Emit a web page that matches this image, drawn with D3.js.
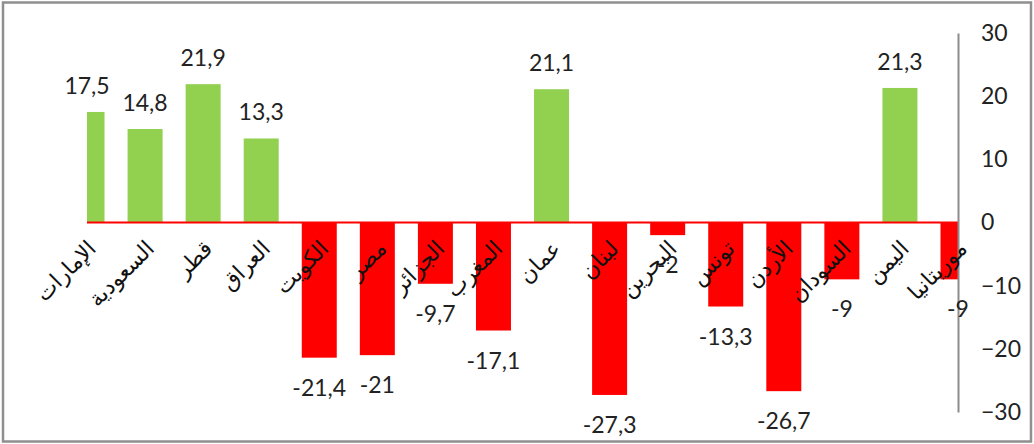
<!DOCTYPE html>
<html>
<head>
<meta charset="utf-8">
<script src="https://cdn.jsdelivr.net/npm/d3@7"></script>
<style>
  html, body { margin: 0; padding: 0; background: #fff; }
  svg { display: block; }
</style>
</head>
<body>
<svg id="chart" width="1034" height="444"></svg>
<script>
const categories = ["الإمارات","السعودية","قطر","العراق","الكويت","مصر","الجزائر","المغرب","عمان","لبنان","البحرين","تونس","الأردن","السودان","اليمن","موريتانيا"];
const values = [17.5, 14.8, 21.9, 13.3, -21.4, -21, -9.7, -17.1, 21.1, -27.3, -2, -13.3, -26.7, -9, 21.3, -9];
const valueLabels = ["17,5","14,8","21,9","13,3","-21,4","-21","-9,7","-17,1","21,1","-27,3","-2","-13,3","-26,7","-9","21,3","-9"];
const yTicks = [30, 20, 10, 0, -10, -20, -30];

const W = 1034, H = 444;
const plot = { left: 87, right: 958, top: 33, bottom: 412 };
const svg = d3.select("#chart");

// outer border
svg.append("rect")
  .attr("x", 3).attr("y", 2.5).attr("width", 1028).attr("height", 439)
  .attr("fill", "#fff").attr("stroke", "#8f8f8f").attr("stroke-width", 2.5);

const x = d3.scalePoint().domain(categories).range([plot.left, plot.right]);
const y = d3.scaleLinear().domain([-30, 30]).range([plot.bottom, plot.top]);
const barW = 35;

svg.append("clipPath").attr("id", "plotclip")
  .append("rect")
  .attr("x", plot.left).attr("y", plot.top - 5)
  .attr("width", plot.right - plot.left).attr("height", plot.bottom - plot.top + 10);

const data = categories.map((c, i) => ({ c, v: values[i], lab: valueLabels[i] }));

// bars
svg.append("g").attr("clip-path", "url(#plotclip)")
  .selectAll("rect").data(data).join("rect")
  .attr("x", d => x(d.c) - barW / 2)
  .attr("width", barW)
  .attr("y", d => y(Math.max(0, d.v)))
  .attr("height", d => Math.abs(y(d.v) - y(0)))
  .attr("fill", d => d.v >= 0 ? "#92d050" : "#ff0000");

// zero line (category axis)
svg.append("line")
  .attr("x1", plot.left).attr("x2", plot.right)
  .attr("y1", y(0)).attr("y2", y(0))
  .attr("stroke", "#ff0000").attr("stroke-width", 2);

// y axis on the right
const yAxis = d3.axisRight(y).tickValues(yTicks).tickSize(0).tickPadding(23).tickFormat(d3.format("d"));
const gy = svg.append("g").attr("transform", `translate(${plot.right},0)`).call(yAxis);
gy.select(".domain").attr("stroke", "#8c8c8c").attr("stroke-width", 2);
gy.selectAll("text")
  .attr("font-family", "Lato, 'DejaVu Sans', sans-serif")
  .attr("font-size", 23).attr("fill", "#222");

// category labels
svg.append("g").selectAll("text").data(data).join("text")
  .attr("transform", d => `translate(${x(d.c) + 5},${y(0) + 22}) rotate(-45)`)
  .attr("text-anchor", "end")
  .attr("dy", "0.35em")
  .attr("font-family", "'DejaVu Sans', sans-serif")
  .attr("font-size", 22)
  .attr("fill", "#111")
  .text(d => d.c);

// value labels
svg.append("g").selectAll("text").data(data).join("text")
  .attr("x", d => x(d.c))
  .attr("y", d => d.v >= 0 ? y(d.v) - 18 : y(d.v) + 38)
  .attr("text-anchor", "middle")
  .attr("font-family", "Lato, 'DejaVu Sans', sans-serif")
  .attr("font-size", 23)
  .attr("fill", "#222")
  .text(d => d.lab);
</script>
</body>
</html>
